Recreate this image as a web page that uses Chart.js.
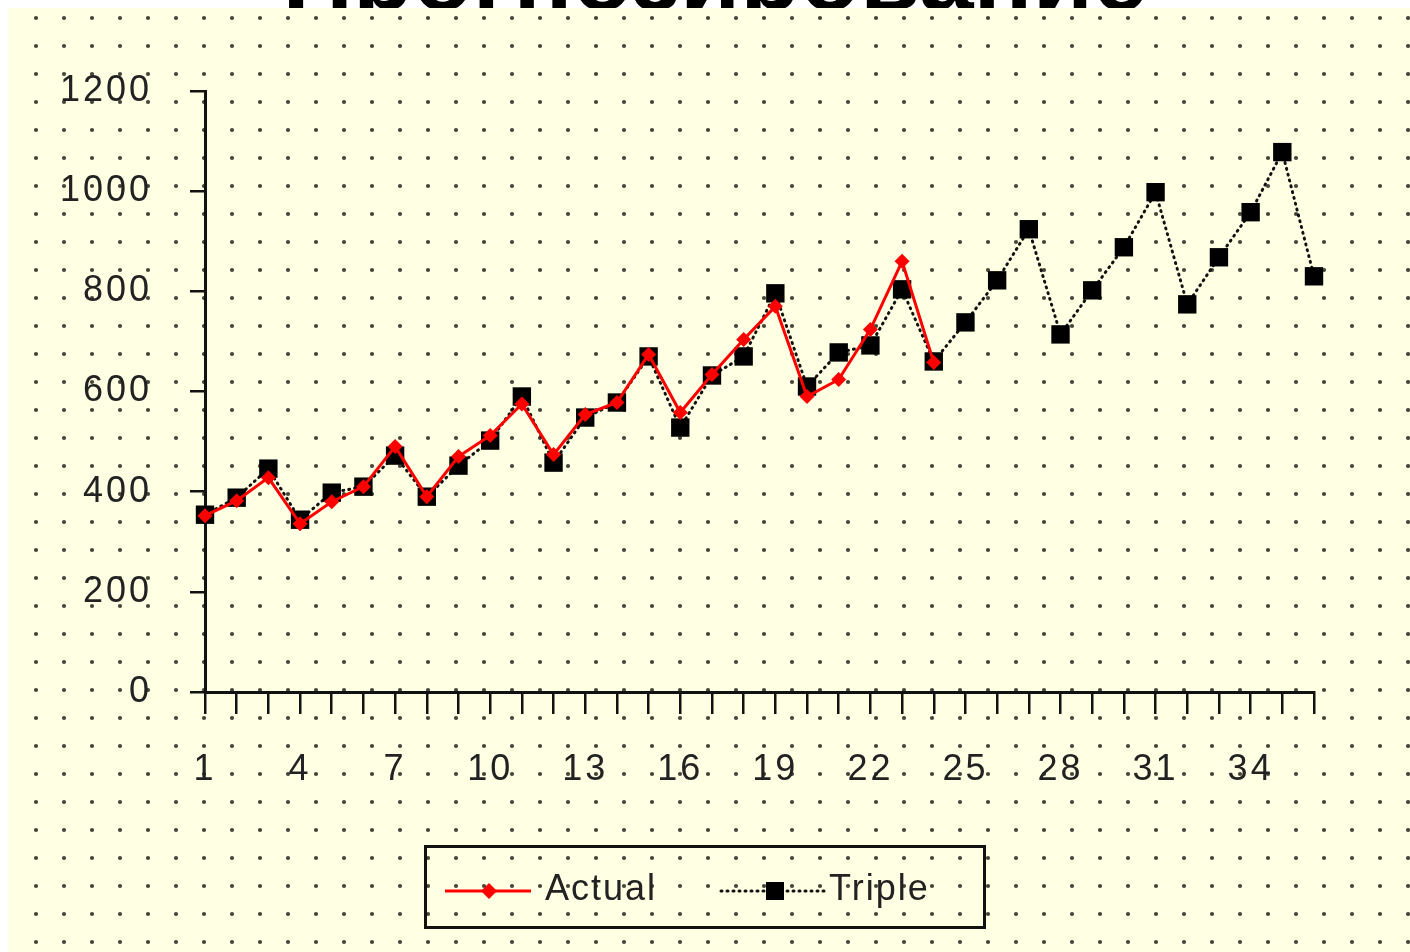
<!DOCTYPE html>
<html><head><meta charset="utf-8">
<script src="https://cdn.jsdelivr.net/npm/chart.js@4"></script>
<style>
html,body{margin:0;padding:0;background:#fff;width:1410px;height:952px;overflow:hidden;}
#title{position:absolute;left:0;width:1430px;top:-73px;text-align:center;font:bold 98px "Liberation Sans",Arial,sans-serif;color:#000;white-space:nowrap;line-height:98px;z-index:0}
#wrap{position:absolute;left:0;top:0;width:1410px;height:952px;z-index:1}
#legend{position:absolute;left:424px;top:845px;width:556px;height:78px;border:3px solid #111;z-index:2;font:36px "Liberation Sans",Arial,sans-serif;color:#222;letter-spacing:2px}
#legend .t{position:absolute;top:20px;line-height:40px}
#legend svg{position:absolute}
</style></head>
<body>
<div id="title">Прогнозирование</div>
<div id="wrap"><canvas id="c" width="1410" height="952"></canvas></div>
<div id="legend">
  <svg style="left:16px;top:30px" width="90" height="26"><line x1="2" y1="13" x2="88" y2="13" stroke="#f00" stroke-width="3"/><polygon points="46,5 54,13 46,21 38,13" fill="#f00"/></svg>
  <span class="t" style="left:118px">Actual</span>
  <svg style="left:292px;top:30px" width="112" height="26"><line x1="2" y1="13" x2="110" y2="13" stroke="#111" stroke-width="3" stroke-dasharray="1 5" stroke-linecap="round"/><rect x="47" y="4" width="18" height="18" fill="#000"/></svg>
  <span class="t" style="left:402px">Triple</span>
</div>
<script>
const categories = ['1','2','3','4','5','6','7','8','9','10','11','12','13','14','15','16','17','18','19','20','21','22','23','24','25','26','27','28','29','30','31','32','33','34','35','36'];
const actual = [352,382,428,336,380,410,490,390,470,512,575,474,554,578,674,558,634,704,770,590,624,724,860,658];
const triple = [354,388,446,344,398,410,472,390,452,502,590,458,548,578,670,528,632,670,796,610,678,692,804,660,738,822,924,714,802,888,998,774,868,958,1078,830];
const yTicks = [0,200,400,600,800,1000,1200];

const bgPlugin = {
  id:'bg',
  beforeUpdate(chart){ chart.ctx.letterSpacing = '3px'; },
  beforeDraw(chart){
    const ctx = chart.ctx;
    ctx.save();
    ctx.fillStyle = '#FFFFE3';
    ctx.fillRect(8,8,1402,944);
    ctx.fillStyle = '#45453a';
    for(let y=18; y<952; y+=28){
      for(let x=36; x<1410; x+=28){
        ctx.beginPath(); ctx.arc(x,y,2.1,0,Math.PI*2); ctx.fill();
      }
    }
    ctx.restore();
  }
};

new Chart(document.getElementById('c'), {
  type:'line',
  data:{
    labels: categories,
    datasets:[
      {label:'Actual', data: actual, borderColor:'#ff0000', backgroundColor:'#ff0000', borderWidth:3, pointStyle:'rectRot', pointRadius:7.5, pointBorderWidth:0, tension:0, clip:false},
      {label:'Triple', data: triple, borderColor:'#111', backgroundColor:'#000', borderWidth:3, borderDash:[1,5], borderCapStyle:'round', pointStyle:'rect', pointRadius:13, pointBorderWidth:0, tension:0, clip:false}
    ]
  },
  options:{
    responsive:false, animation:false, devicePixelRatio:1,
    layout:{padding:{top:91,right:96,left:0,bottom:0}},
    plugins:{legend:{display:false}, title:{display:false}, tooltip:{enabled:false}},
    scales:{
      y:{min:0,max:1200,
        afterBuildTicks(s){ s.ticks = yTicks.map(v=>({value:v})); },
        afterFit(s){ s.width = 205; },
        ticks:{callback:v=>String(v), font:{family:'"Liberation Sans", Arial, sans-serif', size:36}, color:'#222', padding:38},
        grid:{drawOnChartArea:false, tickLength:15, color:'#111', lineWidth:2.5},
        border:{color:'#111', width:3}
      },
      x:{type:'category', offset:false,
        afterFit(s){ s.height = 260; },
        ticks:{autoSkip:false, maxRotation:0, minRotation:0, padding:34,
          callback:(v,i)=> i%3===0 ? categories[i] : '',
          font:{family:'"Liberation Sans", Arial, sans-serif', size:36}, color:'#222'},
        grid:{drawOnChartArea:false, tickLength:22, color:'#111', lineWidth:2.5, offset:false},
        border:{color:'#111', width:3}
      }
    }
  },
  plugins:[bgPlugin]
});
</script>
</body></html>
